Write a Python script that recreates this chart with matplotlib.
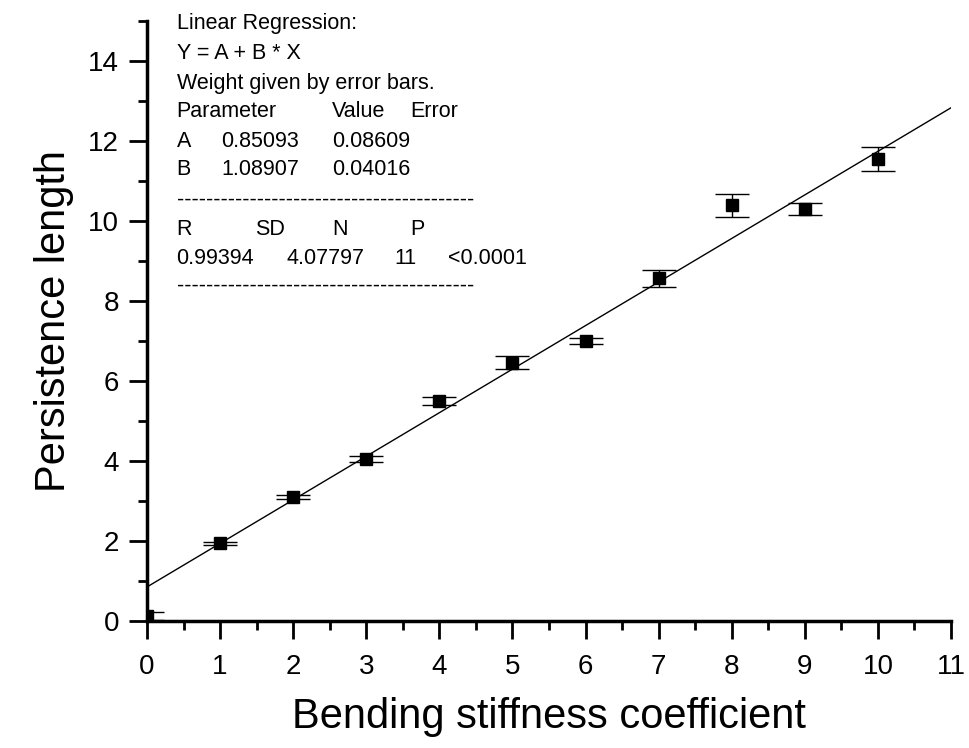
import numpy as np
import matplotlib
matplotlib.use("Agg")
import matplotlib.pyplot as plt
from matplotlib.ticker import MultipleLocator

# data
stiffness = [0, 1, 2, 3, 4, 5, 6, 7, 8, 9, 10]
persistence = [0.12, 1.94, 3.09, 4.05, 5.50, 6.46, 7.00, 8.57, 10.39, 10.30, 11.55]
errors = [0.10, 0.03, 0.05, 0.08, 0.10, 0.17, 0.08, 0.21, 0.28, 0.15, 0.29]

# regression result quoted in the figure
fit_a = 0.85093
fit_b = 1.08907

plt.rcParams['font.family'] = ['Liberation Sans', 'DejaVu Sans']

fig = plt.figure(figsize=(9.69, 7.48), dpi=100)
ax = fig.add_axes([0.1517, 0.1698, 0.8297, 0.8021])

# fitted line
xfit = np.array([0, 11])
ax.plot(xfit, fit_a + fit_b * xfit, color='black', lw=1.0, zorder=2)

# data with error bars
ax.errorbar(stiffness, persistence, yerr=errors, fmt='s', color='black',
            ms=8, ecolor='black', elinewidth=1.0, capsize=12, capthick=1.0,
            zorder=3)

ax.set_xlim(0, 11)
ax.set_ylim(0, 15)
ax.xaxis.set_major_locator(MultipleLocator(1))
ax.xaxis.set_minor_locator(MultipleLocator(0.5))
ax.yaxis.set_major_locator(MultipleLocator(2))
ax.yaxis.set_minor_locator(MultipleLocator(1))

for s in ['top', 'right']:
    ax.spines[s].set_visible(False)
for s in ['left', 'bottom']:
    ax.spines[s].set_linewidth(2.5)

ax.tick_params(which='major', direction='out', length=13, width=2.0,
               labelsize=20)
ax.tick_params(which='minor', direction='out', length=6.5, width=2.0)
ax.tick_params(axis='x', which='major', pad=11)
ax.tick_params(axis='y', which='major', pad=7)

ax.set_xlabel('Bending stiffness coefficient', fontsize=30, labelpad=12)
ax.set_ylabel('Persistence length', fontsize=30, labelpad=10)

# regression report text
fs = 15.5
rows = [
    (14.94, [(0.405, 'Linear Regression:')]),
    (14.19, [(0.405, 'Y = A + B * X')]),
    (13.44, [(0.405, 'Weight given by error bars.')]),
    (12.73, [(0.405, 'Parameter'), (2.53, 'Value'), (3.60, 'Error')]),
    (11.98, [(0.405, 'A'), (1.02, '0.85093'), (2.53, '0.08609')]),
    (11.28, [(0.405, 'B'), (1.02, '1.08907'), (2.53, '0.04016')]),
    (10.53, [(0.405, '-' * 41)]),
    (9.78, [(0.405, 'R'), (1.48, 'SD'), (2.53, 'N'), (3.60, 'P')]),
    (9.07, [(0.405, '0.99394'), (1.91, '4.07797'), (3.39, '11'), (4.12, '<0.0001')]),
    (8.36, [(0.405, '-' * 41)]),
]
for y, items in rows:
    for x, t in items:
        ax.text(x, y, t, fontsize=fs, va='center', ha='left')

fig.savefig('out.png', dpi=100)
